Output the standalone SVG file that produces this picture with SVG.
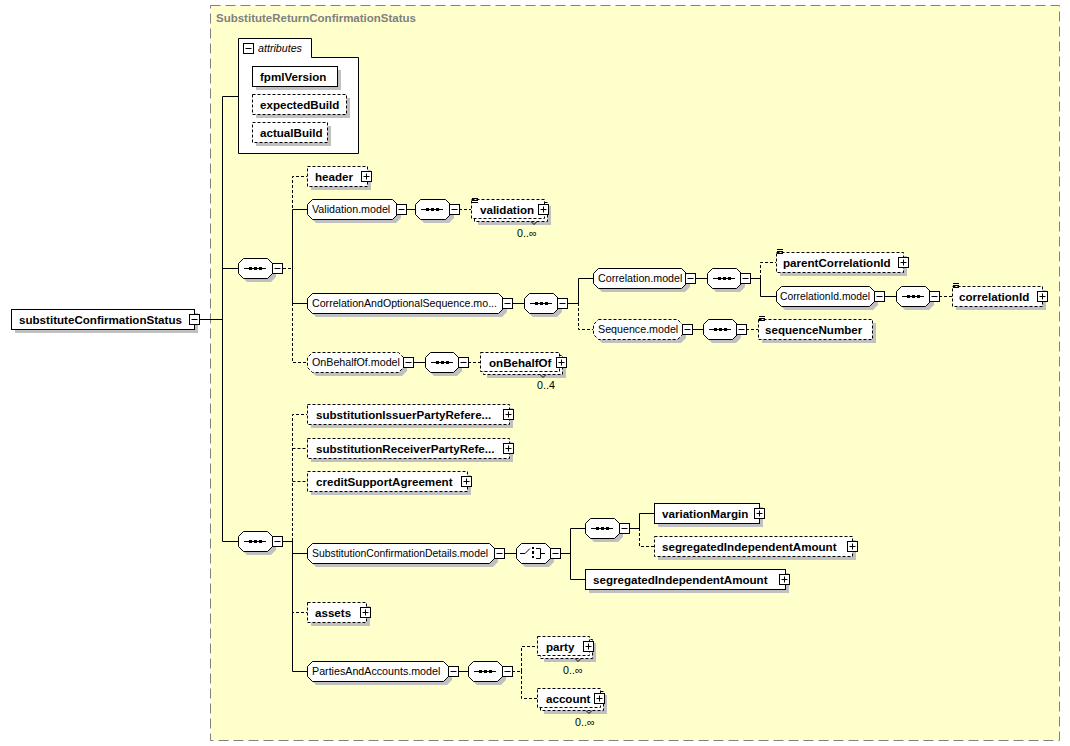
<svg xmlns="http://www.w3.org/2000/svg" xmlns:xlink="http://www.w3.org/1999/xlink" width="1070" height="746" viewBox="0 0 1070 746">
<style>
.frame{fill:#ffffcc;stroke:#808080;stroke-width:1;stroke-dasharray:10,5}
.title{font-family:"Liberation Sans",Arial,sans-serif;font-size:11.5px;font-weight:bold;fill:#808080}
.box{fill:#fff;stroke:#000;stroke-width:1}
.dbox{fill:#fff;stroke:#000;stroke-width:1;stroke-dasharray:3,2}
.sh{fill:#c0c0c0;stroke:none}
.el{font-family:"Liberation Sans",Arial,sans-serif;font-size:11.6px;font-weight:bold;fill:#000}
.md{font-family:"Liberation Sans",Arial,sans-serif;font-size:10.7px;fill:#000}
.it{font-family:"Liberation Sans",Arial,sans-serif;font-size:10.7px;font-style:italic;fill:#000}
.oc{font-family:"Liberation Sans",Arial,sans-serif;font-size:10.7px;fill:#000}
.ln{fill:none;stroke:#000;stroke-width:1}
.dl{fill:none;stroke:#000;stroke-width:1;stroke-dasharray:3,2}
.ic{fill:none;stroke:#000;stroke-width:1}
.dot{fill:#000}
</style>
<defs>
<g id="btnMinus"><rect x="0.5" y="0.5" width="10" height="10" fill="#fff" stroke="#000"/><path d="M2.5,5.5 H8.5" stroke="#000"/></g>
<g id="btnPlus"><rect x="0.5" y="0.5" width="10" height="10" fill="#fff" stroke="#000"/><path d="M2.5,5.5 H8.5 M5.5,2.5 V8.5" stroke="#000"/></g>
<g id="lines3"><path d="M0,0.5 H6 M0,2.5 H6 M0,4.5 H6" stroke="#000" stroke-width="1"/></g>
<g id="seqIcon"><path d="M6,0.5 H28" stroke="#000"/><rect x="11" y="-1" width="3" height="3"/><rect x="16" y="-1" width="3" height="3"/><rect x="21" y="-1" width="3" height="3"/></g>
</defs>

<rect class="frame" x="210.5" y="5.5" width="849" height="735"/>
<text class="title" x="216" y="22">SubstituteReturnConfirmationStatus</text>

<g id="connectors">
<path class="ln" d="M199,319.5 H222.5 M222.5,319 V96.5 H238 M222.5,319 V268.5 H238 M222.5,319 V541.5 H238"/>
<path class="dl" d="M283,268.5 H292.5 M292.5,268 V176.5 H307 M292.5,268 V362.5 H307"/>
<path class="ln" d="M292.5,268 V209.5 H307 M292.5,268 V303.5 H307"/>
<path class="ln" d="M406,209.5 H415"/>
<path class="dl" d="M459,209.5 H471"/>
<path class="ln" d="M513,303.5 H524 M568,303.5 H578.5"/>
<path class="dl" d="M578.5,303 V329.5 H593"/>
<path class="ln" d="M578.5,303 V278.5 H593"/>
<path class="ln" d="M695,278.5 H707 M751,278.5 H760.5"/>
<path class="dl" d="M760.5,278 V262.5 H776"/>
<path class="ln" d="M760.5,278 V296.5 H776"/>
<path class="ln" d="M884,296.5 H896"/>
<path class="dl" d="M939,296.5 H952"/>
<path class="ln" d="M692,329.5 H703"/>
<path class="dl" d="M746,329.5 H758"/>
<path class="ln" d="M413,362.5 H425"/>
<path class="dl" d="M468,362.5 H480"/>
<path class="ln" d="M283,541.5 H292.5"/>
<path class="dl" d="M292.5,541 V414.5 H307 M292.5,448.5 H307 M292.5,481.5 H307 M292.5,541 V612.5 H307"/>
<path class="ln" d="M292.5,541 V553.5 H307 M292.5,541 V671.5 H307"/>
<path class="ln" d="M504,553.5 H516 M560,553.5 H570.5 M570.5,553 V528.5 H585 M570.5,553 V579.5 H585"/>
<path class="ln" d="M629,528.5 H639.5 M639.5,528 V513.5 H654"/>
<path class="dl" d="M639.5,528 V546.5 H654"/>
<path class="ln" d="M458,671.5 H468"/>
<path class="dl" d="M512,671.5 H521.5 M521.5,671 V646.5 H537 M521.5,671 V698.5 H537"/>
</g>

<g id="root">
<rect class="sh" x="15" y="313" width="183" height="20"/>
<rect class="box" x="11.5" y="309.5" width="183" height="20"/>
<text class="el" x="19" y="324">substituteConfirmationStatus</text>
<use xlink:href="#btnMinus" x="189" y="314"/>
</g>

<g id="attributes">
<path class="box" d="M238.5,153.5 V38.5 H311.5 V57.5 H358.5 V153.5 Z"/>
<use xlink:href="#btnMinus" x="243" y="43"/>
<text class="it" x="258" y="52">attributes</text>
</g>
<g id="fpmlVersion">
<rect class="sh" x="256" y="70" width="85" height="20"/>
<rect class="box" x="252.5" y="66.5" width="85" height="20"/>
<text class="el" x="260" y="81">fpmlVersion</text>
</g>
<g id="expectedBuild">
<rect class="sh" x="256" y="98" width="94" height="20"/>
<rect class="dbox" x="252.5" y="94.5" width="94" height="20"/>
<text class="el" x="260" y="109">expectedBuild</text>
</g>
<g id="actualBuild">
<rect class="sh" x="256" y="126" width="75" height="20"/>
<rect class="dbox" x="252.5" y="122.5" width="75" height="20"/>
<text class="el" x="260" y="137">actualBuild</text>
</g>

<g id="seq1">
<path class="sh" transform="translate(4,4)" d="M243,258 H267 L272,263 V273 L267,278 H243 L238,273 V263 Z"/>
<path class="box" d="M243.5,258.5 H267.5 L272.5,263.5 V273.5 L267.5,278.5 H243.5 L238.5,273.5 V263.5 Z"/>
<use xlink:href="#seqIcon" x="238" y="268"/>
<use xlink:href="#btnMinus" x="272" y="263"/>
</g>

<g id="header">
<rect class="sh" x="311" y="170" width="60" height="20"/>
<rect class="dbox" x="307.5" y="166.5" width="60" height="20"/>
<text class="el" x="315" y="181">header</text>
<use xlink:href="#btnPlus" x="361" y="171"/>
</g>

<g id="ValidationModel">
<path class="sh" transform="translate(4,4)" d="M312,199 H392 L397,204 V214 L392,219 H312 L307,214 V204 Z"/>
<path class="box" d="M312.5,199.5 H392.5 L397.5,204.5 V214.5 L392.5,219.5 H312.5 L307.5,214.5 V204.5 Z"/>
<text class="md" x="312" y="213">Validation.model</text>
<use xlink:href="#btnMinus" x="396" y="204"/>
</g>
<g id="seqValidation">
<path class="sh" transform="translate(4,4)" d="M420,199 H445 L450,204 V214 L445,219 H420 L415,214 V204 Z"/>
<path class="box" d="M420.5,199.5 H445.5 L450.5,204.5 V214.5 L445.5,219.5 H420.5 L415.5,214.5 V204.5 Z"/>
<use xlink:href="#seqIcon" x="415" y="209"/>
<use xlink:href="#btnMinus" x="449" y="204"/>
</g>
<g id="validation">
<rect class="sh" x="478" y="206" width="73" height="19"/>
<rect class="dbox" x="474.5" y="202.5" width="73" height="19"/>
<rect class="dbox" x="471.5" y="199.5" width="73" height="19"/>
<use xlink:href="#lines3" x="472" y="198"/>
<text class="el" x="480" y="214">validation</text>
<use xlink:href="#btnPlus" x="538" y="204"/>
<path class="ic" d="M531,221.5 L534,224.5 L537,221.5"/>
<text class="oc" x="517" y="237">0..∞</text>
</g>

<g id="CorrelationAndOptionalSequenceModel">
<path class="sh" transform="translate(4,4)" d="M312,293 H498 L503,298 V308 L498,313 H312 L307,308 V298 Z"/>
<path class="box" d="M312.5,293.5 H498.5 L503.5,298.5 V308.5 L498.5,313.5 H312.5 L307.5,308.5 V298.5 Z"/>
<text class="md" x="312" y="307" textLength="185" lengthAdjust="spacingAndGlyphs">CorrelationAndOptionalSequence.mo...</text>
<use xlink:href="#btnMinus" x="502" y="298"/>
</g>
<g id="seqCorrAndOpt">
<path class="sh" transform="translate(4,4)" d="M529,293 H553 L558,298 V308 L553,313 H529 L524,308 V298 Z"/>
<path class="box" d="M529.5,293.5 H553.5 L558.5,298.5 V308.5 L553.5,313.5 H529.5 L524.5,308.5 V298.5 Z"/>
<use xlink:href="#seqIcon" x="524" y="303"/>
<use xlink:href="#btnMinus" x="557" y="298"/>
</g>

<g id="CorrelationModel">
<path class="sh" transform="translate(4,4)" d="M598,268 H681 L686,273 V283 L681,288 H598 L593,283 V273 Z"/>
<path class="box" d="M598.5,268.5 H681.5 L686.5,273.5 V283.5 L681.5,288.5 H598.5 L593.5,283.5 V273.5 Z"/>
<text class="md" x="598" y="282">Correlation.model</text>
<use xlink:href="#btnMinus" x="685" y="273"/>
</g>
<g id="seqCorrelation">
<path class="sh" transform="translate(4,4)" d="M712,268 H736 L741,273 V283 L736,288 H712 L707,283 V273 Z"/>
<path class="box" d="M712.5,268.5 H736.5 L741.5,273.5 V283.5 L736.5,288.5 H712.5 L707.5,283.5 V273.5 Z"/>
<use xlink:href="#seqIcon" x="707" y="278"/>
<use xlink:href="#btnMinus" x="740" y="273"/>
</g>
<g id="parentCorrelationId">
<rect class="sh" x="780" y="256" width="127" height="20"/>
<rect class="dbox" x="776.5" y="252.5" width="127" height="20"/>
<use xlink:href="#lines3" x="777" y="249"/>
<text class="el" x="783" y="267">parentCorrelationId</text>
<use xlink:href="#btnPlus" x="898" y="257"/>
</g>
<g id="CorrelationIdModel">
<path class="sh" transform="translate(4,4)" d="M781,286 H869 L874,291 V301 L869,306 H781 L776,301 V291 Z"/>
<path class="box" d="M781.5,286.5 H869.5 L874.5,291.5 V301.5 L869.5,306.5 H781.5 L776.5,301.5 V291.5 Z"/>
<text class="md" x="780" y="300" textLength="90" lengthAdjust="spacingAndGlyphs">CorrelationId.model</text>
<use xlink:href="#btnMinus" x="874" y="291"/>
</g>
<g id="seqCorrelationId">
<path class="sh" transform="translate(4,4)" d="M901,286 H925 L930,291 V301 L925,306 H901 L896,301 V291 Z"/>
<path class="box" d="M901.5,286.5 H925.5 L930.5,291.5 V301.5 L925.5,306.5 H901.5 L896.5,301.5 V291.5 Z"/>
<use xlink:href="#seqIcon" x="896" y="296"/>
<use xlink:href="#btnMinus" x="929" y="291"/>
</g>
<g id="correlationId">
<rect class="sh" x="956" y="290" width="90" height="20"/>
<rect class="dbox" x="952.5" y="286.5" width="90" height="20"/>
<use xlink:href="#lines3" x="953" y="283"/>
<text class="el" x="959" y="301">correlationId</text>
<use xlink:href="#btnPlus" x="1037" y="291"/>
</g>

<g id="SequenceModel">
<path class="sh" transform="translate(4,4)" d="M598,319 H677 L682,324 V334 L677,339 H598 L593,334 V324 Z"/>
<path class="dbox" d="M598.5,319.5 H677.5 L682.5,324.5 V334.5 L677.5,339.5 H598.5 L593.5,334.5 V324.5 Z"/>
<text class="md" x="598" y="333">Sequence.model</text>
<use xlink:href="#btnMinus" x="682" y="324"/>
</g>
<g id="seqSequence">
<path class="sh" transform="translate(4,4)" d="M708,319 H732 L737,324 V334 L732,339 H708 L703,334 V324 Z"/>
<path class="box" d="M708.5,319.5 H732.5 L737.5,324.5 V334.5 L732.5,339.5 H708.5 L703.5,334.5 V324.5 Z"/>
<use xlink:href="#seqIcon" x="703" y="329"/>
<use xlink:href="#btnMinus" x="736" y="324"/>
</g>
<g id="sequenceNumber">
<rect class="sh" x="762" y="323" width="114" height="20"/>
<rect class="dbox" x="758.5" y="319.5" width="114" height="20"/>
<use xlink:href="#lines3" x="759" y="316"/>
<text class="el" x="765" y="334">sequenceNumber</text>
</g>

<g id="OnBehalfOfModel">
<path class="sh" transform="translate(4,4)" d="M312,352 H398 L403,357 V367 L398,372 H312 L307,367 V357 Z"/>
<path class="dbox" d="M312.5,352.5 H398.5 L403.5,357.5 V367.5 L398.5,372.5 H312.5 L307.5,367.5 V357.5 Z"/>
<text class="md" x="312" y="366">OnBehalfOf.model</text>
<use xlink:href="#btnMinus" x="403" y="357"/>
</g>
<g id="seqOnBehalfOf">
<path class="sh" transform="translate(4,4)" d="M430,352 H453 L458,357 V367 L453,372 H430 L425,367 V357 Z"/>
<path class="box" d="M430.5,352.5 H453.5 L458.5,357.5 V367.5 L453.5,372.5 H430.5 L425.5,367.5 V357.5 Z"/>
<use xlink:href="#seqIcon" x="425" y="362"/>
<use xlink:href="#btnMinus" x="458" y="357"/>
</g>
<g id="onBehalfOf">
<rect class="sh" x="487" y="359" width="79" height="19"/>
<rect class="dbox" x="483.5" y="355.5" width="79" height="19"/>
<rect class="dbox" x="480.5" y="352.5" width="79" height="19"/>
<text class="el" x="489" y="367">onBehalfOf</text>
<use xlink:href="#btnPlus" x="556" y="357"/>
<path class="ic" d="M540,374.5 L543,377.5 L546,374.5"/>
<text class="oc" x="537" y="389">0..4</text>
</g>

<g id="seq2">
<path class="sh" transform="translate(4,4)" d="M243,531 H267 L272,536 V546 L267,551 H243 L238,546 V536 Z"/>
<path class="box" d="M243.5,531.5 H267.5 L272.5,536.5 V546.5 L267.5,551.5 H243.5 L238.5,546.5 V536.5 Z"/>
<use xlink:href="#seqIcon" x="238" y="541"/>
<use xlink:href="#btnMinus" x="272" y="536"/>
</g>

<g id="substitutionIssuerPartyReference">
<rect class="sh" x="311" y="408" width="202" height="20"/>
<rect class="dbox" x="307.5" y="404.5" width="202" height="20"/>
<text class="el" x="316" y="419">substitutionIssuerPartyRefere...</text>
<use xlink:href="#btnPlus" x="503" y="409"/>
</g>
<g id="substitutionReceiverPartyReference">
<rect class="sh" x="311" y="442" width="202" height="20"/>
<rect class="dbox" x="307.5" y="438.5" width="202" height="20"/>
<text class="el" x="316" y="453">substitutionReceiverPartyRefe...</text>
<use xlink:href="#btnPlus" x="503" y="443"/>
</g>
<g id="creditSupportAgreement">
<rect class="sh" x="311" y="475" width="160" height="20"/>
<rect class="dbox" x="307.5" y="471.5" width="160" height="20"/>
<text class="el" x="316" y="486">creditSupportAgreement</text>
<use xlink:href="#btnPlus" x="461" y="476"/>
</g>

<g id="SubstitutionConfirmationDetailsModel">
<path class="sh" transform="translate(4,4)" d="M312,543 H489 L494,548 V558 L489,563 H312 L307,558 V548 Z"/>
<path class="box" d="M312.5,543.5 H489.5 L494.5,548.5 V558.5 L489.5,563.5 H312.5 L307.5,558.5 V548.5 Z"/>
<text class="md" x="312" y="557" textLength="176" lengthAdjust="spacingAndGlyphs">SubstitutionConfirmationDetails.model</text>
<use xlink:href="#btnMinus" x="494" y="548"/>
</g>
<g id="choice">
<path class="sh" transform="translate(4,4)" d="M521,543 H545 L550,548 V558 L545,563 H521 L516,558 V548 Z"/>
<path class="box" d="M521.5,543.5 H545.5 L550.5,548.5 V558.5 L545.5,563.5 H521.5 L516.5,558.5 V548.5 Z"/>
<path class="ic" d="M520,553.5 H525 L530,548.5 M536,548.5 H540.5 V558.5 H536 M540.5,553.5 H545"/>
<rect class="dot" x="532" y="547" width="2" height="2"/>
<rect class="dot" x="532" y="551" width="2" height="3"/>
<rect class="dot" x="532" y="556" width="2" height="2"/>
<use xlink:href="#btnMinus" x="550" y="548"/>
</g>
<g id="seqChoice">
<path class="sh" transform="translate(4,4)" d="M590,518 H614 L619,523 V533 L614,538 H590 L585,533 V523 Z"/>
<path class="box" d="M590.5,518.5 H614.5 L619.5,523.5 V533.5 L614.5,538.5 H590.5 L585.5,533.5 V523.5 Z"/>
<use xlink:href="#seqIcon" x="585" y="528"/>
<use xlink:href="#btnMinus" x="619" y="523"/>
</g>
<g id="variationMargin">
<rect class="sh" x="658" y="507" width="105" height="20"/>
<rect class="box" x="654.5" y="503.5" width="105" height="20"/>
<text class="el" x="662" y="518">variationMargin</text>
<use xlink:href="#btnPlus" x="754" y="508"/>
</g>
<g id="segregatedIndependentAmount1">
<rect class="sh" x="658" y="540" width="198" height="20"/>
<rect class="dbox" x="654.5" y="536.5" width="198" height="20"/>
<text class="el" x="662" y="551">segregatedIndependentAmount</text>
<use xlink:href="#btnPlus" x="847" y="541"/>
</g>
<g id="segregatedIndependentAmount2">
<rect class="sh" x="589" y="573" width="200" height="20"/>
<rect class="box" x="585.5" y="569.5" width="200" height="20"/>
<text class="el" x="593" y="584">segregatedIndependentAmount</text>
<use xlink:href="#btnPlus" x="779" y="574"/>
</g>

<g id="assets">
<rect class="sh" x="311" y="606" width="59" height="20"/>
<rect class="dbox" x="307.5" y="602.5" width="59" height="20"/>
<text class="el" x="315" y="617">assets</text>
<use xlink:href="#btnPlus" x="360" y="607"/>
</g>

<g id="PartiesAndAccountsModel">
<path class="sh" transform="translate(4,4)" d="M312,661 H443 L448,666 V676 L443,681 H312 L307,676 V666 Z"/>
<path class="box" d="M312.5,661.5 H443.5 L448.5,666.5 V676.5 L443.5,681.5 H312.5 L307.5,676.5 V666.5 Z"/>
<text class="md" x="312" y="675">PartiesAndAccounts.model</text>
<use xlink:href="#btnMinus" x="448" y="666"/>
</g>
<g id="seqParties">
<path class="sh" transform="translate(4,4)" d="M473,661 H497 L502,666 V676 L497,681 H473 L468,676 V666 Z"/>
<path class="box" d="M473.5,661.5 H497.5 L502.5,666.5 V676.5 L497.5,681.5 H473.5 L468.5,676.5 V666.5 Z"/>
<use xlink:href="#seqIcon" x="468" y="671"/>
<use xlink:href="#btnMinus" x="502" y="666"/>
</g>
<g id="party">
<rect class="sh" x="544" y="643" width="52" height="19"/>
<rect class="dbox" x="540.5" y="639.5" width="52" height="19"/>
<rect class="dbox" x="537.5" y="636.5" width="52" height="19"/>
<text class="el" x="546" y="651">party</text>
<use xlink:href="#btnPlus" x="583" y="641"/>
<path class="ic" d="M575,658.5 L578,661.5 L581,658.5"/>
<text class="oc" x="563" y="674">0..∞</text>
</g>
<g id="account">
<rect class="sh" x="544" y="695" width="63" height="19"/>
<rect class="dbox" x="540.5" y="691.5" width="63" height="19"/>
<rect class="dbox" x="537.5" y="688.5" width="63" height="19"/>
<text class="el" x="546" y="703">account</text>
<use xlink:href="#btnPlus" x="594" y="693"/>
<path class="ic" d="M586,710.5 L589,713.5 L592,710.5"/>
<text class="oc" x="575" y="726">0..∞</text>
</g>
</svg>
